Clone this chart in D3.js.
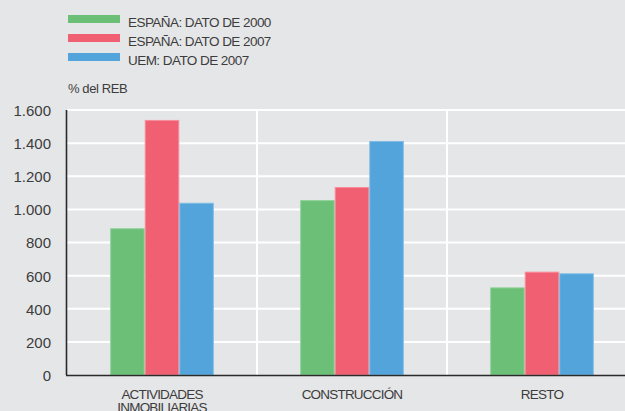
<!DOCTYPE html>
<html>
<head>
<meta charset="utf-8">
<script src="https://cdn.jsdelivr.net/npm/d3@7"></script>
<style>
  html, body { margin: 0; padding: 0; background: #e5e6e8; }
  svg { display: block; }
  text { font-family: "Liberation Sans", Arial, sans-serif; fill: #3c3c3c; }
</style>
</head>
<body>
<svg id="chart" width="625" height="411"></svg>
<script>
// Sector categories, series and values (% del REB)
const categories = ["ACTIVIDADES INMOBILIARIAS", "CONSTRUCCIÓN", "RESTO"];
const categoryLines = [["ACTIVIDADES", "INMOBILIARIAS"], ["CONSTRUCCIÓN"], ["RESTO"]];
const seriesNames = ["ESPAÑA: DATO DE 2000", "ESPAÑA: DATO DE 2007", "UEM: DATO DE 2007"];
const espana2000 = [886, 1056, 529];
const espana2007 = [1540, 1135, 624];
const uem2007 = [1040, 1413, 614];
const yTicks = [0, 200, 400, 600, 800, 1000, 1200, 1400, 1600];
const colors = ["#6bbf76", "#f16072", "#52a4db"];
const strokes = ["#8fd199", "#f78d99", "#80bde6"];

const seriesValues = [espana2000, espana2007, uem2007];
const fmt = d3.formatLocale({ decimal: ",", thousands: ".", grouping: [3] }).format(",");

const svg = d3.select("#chart");
const plotLeft = 67, plotRight = 637, plotTop = 110, plotBottom = 375;

const x = d3.scaleBand().domain(categories).range([plotLeft, plotRight]).paddingInner(0).paddingOuter(0);
const x1 = d3.scaleBand().domain(seriesNames).range([0, x.bandwidth()]).paddingInner(0).paddingOuter(1.25);
const y = d3.scaleLinear().domain([0, 1600]).range([plotBottom, plotTop]);

// Horizontal gridlines
svg.append("g").selectAll("line").data(yTicks.filter(d => d > 0)).join("line")
  .attr("x1", plotLeft).attr("x2", 625)
  .attr("y1", d => y(d)).attr("y2", d => y(d))
  .attr("stroke", "#ffffff").attr("stroke-width", 2);

// Vertical separators between categories
svg.append("g").selectAll("line").data(categories.slice(1)).join("line")
  .attr("x1", d => x(d)).attr("x2", d => x(d))
  .attr("y1", plotTop).attr("y2", plotBottom)
  .attr("stroke", "#ffffff").attr("stroke-width", 2);

// Bars
const groups = svg.append("g").selectAll("g").data(categories).join("g")
  .attr("transform", d => `translate(${x(d)},0)`);
groups.selectAll("rect")
  .data((c, ci) => seriesNames.map((s, si) => ({ s, si, v: seriesValues[si][ci] })))
  .join("rect")
  .attr("x", d => x1(d.s) + 0.5)
  .attr("width", x1.bandwidth() - 1)
  .attr("y", d => y(d.v) + 0.5)
  .attr("height", d => plotBottom - y(d.v) - 0.5)
  .attr("fill", d => colors[d.si])
  .attr("stroke", d => strokes[d.si])
  .attr("stroke-width", 1);

// Y axis labels
const yAxis = d3.axisLeft(y).tickValues(yTicks).tickSize(0).tickPadding(16).tickFormat(d => fmt(d));
const yg = svg.append("g").attr("transform", `translate(${plotLeft},0)`).call(yAxis);
yg.select(".domain").remove();
yg.selectAll("text").attr("font-size", 15).attr("font-family", "Liberation Sans, Arial, sans-serif")
  .attr("fill", "#3c3c3c").attr("dy", "0.36em");

// Axis lines
svg.append("line").attr("x1", plotLeft - 0.5).attr("x2", plotLeft - 0.5).attr("y1", plotTop).attr("y2", plotBottom)
  .attr("stroke", "#2a2a2a").attr("stroke-width", 1.6);
svg.append("line").attr("x1", plotLeft - 1).attr("x2", 625).attr("y1", plotBottom + 0.5).attr("y2", plotBottom + 0.5)
  .attr("stroke", "#2a2a2a").attr("stroke-width", 1.4);

// Category labels
svg.append("g").selectAll("text").data(categories).join("text")
  .attr("x", d => x(d) + x.bandwidth() / 2)
  .attr("y", 399)
  .attr("text-anchor", "middle")
  .attr("font-size", 13.5)
  .attr("letter-spacing", -0.8)
  .each(function (d, i) {
    d3.select(this).selectAll("tspan").data(categoryLines[i]).join("tspan")
      .attr("x", x(d) + x.bandwidth() / 2)
      .attr("dy", (t, j) => j === 0 ? 0 : 13)
      .text(t => t);
  });

// Legend
const legend = svg.append("g").selectAll("g").data(seriesNames).join("g")
  .attr("transform", (d, i) => `translate(68,${15 + i * 19})`);
legend.append("rect").attr("width", 52).attr("height", 8).attr("fill", (d, i) => colors[i]);
legend.append("text").attr("x", 60).attr("y", 12)
  .attr("font-size", 13.5).attr("letter-spacing", -0.55).text(d => d);

// Unit label
svg.append("text").attr("x", 68).attr("y", 93).attr("font-size", 13).attr("letter-spacing", -0.4).text("% del REB");
</script>
</body>
</html>
